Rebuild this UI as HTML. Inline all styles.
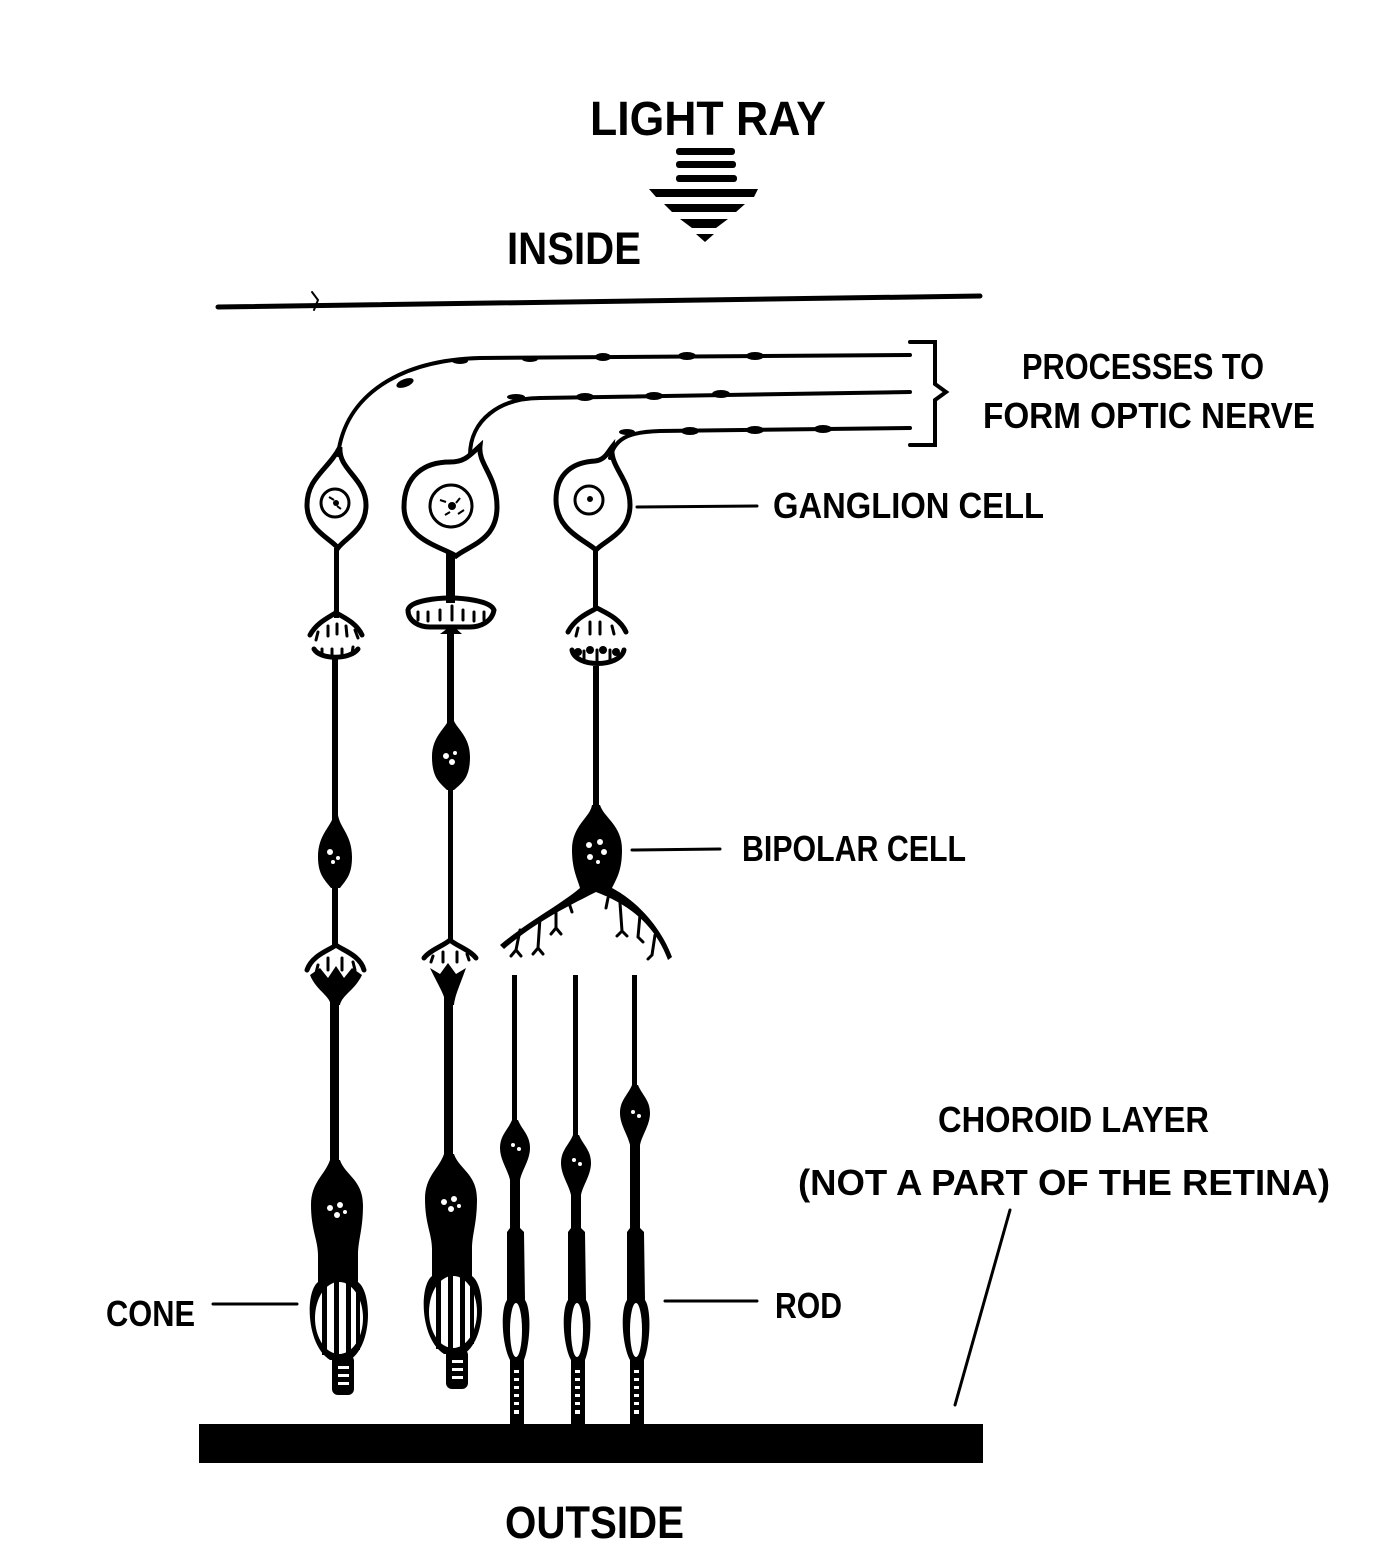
<!DOCTYPE html>
<html><head><meta charset="utf-8"><style>html,body{margin:0;padding:0;background:#fff}svg{display:block}</style></head>
<body>
<svg width="1392" height="1568" viewBox="0 0 1392 1568" xmlns="http://www.w3.org/2000/svg" font-family="Liberation Sans, sans-serif" font-weight="bold">
<rect width="1392" height="1568" fill="#fff"/>
<g fill="#000">
<text x="590" y="135" font-size="48" textLength="236" lengthAdjust="spacingAndGlyphs">LIGHT RAY</text>
<text x="507" y="264" font-size="45" textLength="134" lengthAdjust="spacingAndGlyphs">INSIDE</text>
<text x="505" y="1538" font-size="45" textLength="179" lengthAdjust="spacingAndGlyphs">OUTSIDE</text>
<text x="1022" y="379" font-size="36" textLength="242" lengthAdjust="spacingAndGlyphs">PROCESSES TO</text>
<text x="983" y="428" font-size="36" textLength="332" lengthAdjust="spacingAndGlyphs">FORM OPTIC NERVE</text>
<text x="773" y="518" font-size="36" textLength="271" lengthAdjust="spacingAndGlyphs">GANGLION CELL</text>
<text x="742" y="861" font-size="36" textLength="224" lengthAdjust="spacingAndGlyphs">BIPOLAR CELL</text>
<text x="938" y="1132" font-size="36" textLength="271" lengthAdjust="spacingAndGlyphs">CHOROID LAYER</text>
<text x="798" y="1195" font-size="36" textLength="532" lengthAdjust="spacingAndGlyphs">(NOT A PART OF THE RETINA)</text>
<text x="106" y="1326" font-size="36" textLength="89" lengthAdjust="spacingAndGlyphs">CONE</text>
<text x="775" y="1318" font-size="36" textLength="67" lengthAdjust="spacingAndGlyphs">ROD</text>

<!-- light ray arrow -->
<rect x="676" y="148" width="59" height="7" rx="3"/>
<rect x="676" y="161" width="60" height="7" rx="3"/>
<rect x="676" y="175" width="61" height="7" rx="3"/>
<polygon points="649,189 758,189 754,197 656,197"/>
<polygon points="664,204 745,204 736,212 672,212"/>
<polygon points="680,219 728,219 716,228 692,228"/>
<polygon points="696,234 714,234 705,242"/>
</g>

<g stroke="#000" fill="none" stroke-linecap="round">
<line x1="218" y1="307" x2="980" y2="296" stroke-width="5"/>
<path d="M312,292 l6,8 l-4,10" stroke-width="2"/>
<!-- choroid -->
<rect x="199" y="1424" width="784" height="39" fill="#000" stroke="none"/>
<!-- label lines -->
<line x1="637" y1="507" x2="757" y2="506" stroke-width="3"/>
<line x1="632" y1="850" x2="720" y2="849" stroke-width="3"/>
<line x1="213" y1="1304" x2="297" y2="1304" stroke-width="3"/>
<line x1="665" y1="1301" x2="757" y2="1301" stroke-width="3"/>
<line x1="1010" y1="1210" x2="955" y2="1405" stroke-width="3"/>
<!-- bracket -->
<path d="M910,342 L935,342 L935,384 L946,392 L935,400 L935,445 L910,445" stroke-width="4"/>

<!-- processes -->
<path d="M338,455 C345,395 400,360 480,358 L910,355" stroke-width="4"/>
<path d="M470,455 C470,420 500,398 540,398 L910,392" stroke-width="4"/>
<path d="M610,458 C615,440 625,432 660,431 L910,428" stroke-width="4"/>
</g>
<g fill="#000">
<ellipse cx="405" cy="383" rx="9" ry="4" transform="rotate(-20 405 383)"/>
<ellipse cx="460" cy="361" rx="8" ry="3"/><ellipse cx="530" cy="359" rx="8" ry="3"/>
<ellipse cx="603" cy="357" rx="8" ry="4"/><ellipse cx="687" cy="356" rx="9" ry="4"/>
<ellipse cx="755" cy="356" rx="9" ry="4"/>
<ellipse cx="516" cy="397" rx="9" ry="3"/><ellipse cx="585" cy="397" rx="9" ry="4"/>
<ellipse cx="654" cy="396" rx="9" ry="4"/><ellipse cx="721" cy="394" rx="9" ry="4"/>
<ellipse cx="627" cy="432" rx="8" ry="3"/><ellipse cx="690" cy="431" rx="9" ry="4"/>
<ellipse cx="755" cy="430" rx="9" ry="4"/><ellipse cx="823" cy="429" rx="9" ry="4"/>
</g>

<!-- ganglion cells -->
<g stroke="#000" stroke-width="5" fill="none">
<path d="M340,447 C338,470 366,478 366,505 C366,530 345,538 338,548 C330,538 307,530 307,505 C307,478 328,470 340,447 Z"/>
<circle cx="335" cy="503" r="14" stroke-width="3"/>
<path d="M480,446 C478,465 497,475 497,507 C497,540 470,545 456,556 C445,548 404,540 404,507 C404,475 425,462 450,462 C465,462 470,455 480,446 Z"/>
<circle cx="451" cy="506" r="21" stroke-width="3"/>
<path d="M612,447 C610,468 630,478 630,505 C630,533 605,540 596,550 C585,540 556,530 556,500 C556,472 575,462 595,461 C605,460 608,452 612,447 Z"/>
<circle cx="589" cy="500" r="14" stroke-width="3"/>
</g>
<g fill="#000">
<circle cx="336" cy="503" r="3"/><circle cx="452" cy="506" r="4"/><circle cx="590" cy="499" r="3"/>
<path d="M329,497 l5,3 M341,509 l-4,-3" stroke="#000" stroke-width="2"/>
<path d="M440,500 l6,2 M458,514 l6,-4 M445,515 l5,-3 M460,498 l-4,5" stroke="#000" stroke-width="2"/>
<!-- axons ganglion -->
<rect x="334" y="548" width="5" height="70"/>
<rect x="446" y="553" width="9" height="50"/>
<rect x="593" y="548" width="5" height="62"/>
</g>

<!-- synapses col1 upper -->
<g stroke="#000" fill="none" stroke-width="5" stroke-linecap="round">
<path d="M310,635 C318,620 335,615 336,612 C337,615 355,620 362,635"/>
<path d="M318,632 l-2,8 M328,626 l0,10 M337,624 l0,10 M346,626 l1,10 M355,630 l3,8" stroke-width="3"/>
<path d="M314,649 C320,660 350,660 358,649"/>
<path d="M322,656 l0,-7 M332,657 l0,-8 M342,657 l0,-8 M352,654 l1,-7" stroke-width="3"/>
<!-- col2 upper -->
<path d="M408,610 C410,600 440,598 450,598 C460,598 490,600 494,610 C492,622 480,627 470,627 L430,627 C420,627 408,622 408,610 Z" stroke-width="5"/>
<path d="M418,612 l0,8 M428,612 l0,9 M440,610 l0,10 M452,606 l0,14 M463,610 l0,10 M474,612 l0,9 M484,612 l0,8" stroke-width="3"/>
<!-- col3 upper -->
<path d="M568,632 C575,618 590,612 597,608 C604,612 620,618 626,632" />
<path d="M578,628 l-2,8 M590,622 l0,12 M600,622 l0,12 M612,626 l2,8" stroke-width="3"/>
<path d="M572,650 C575,668 620,668 624,650"/>
<path d="M584,661 l0,-10 M597,662 l0,-12 M610,660 l0,-10" stroke-width="3"/>
<!-- lower synapses col1 -->
<path d="M307,970 C312,955 330,950 336,945 C342,950 360,955 364,970"/>
<path d="M318,965 l-2,8 M328,958 l0,12 M342,958 l0,12 M353,962 l2,8" stroke-width="3"/>
<!-- col2 lower -->
<path d="M424,958 C430,950 445,945 450,940 C455,945 470,950 476,958"/>
<path d="M433,956 l-2,6 M443,952 l0,10 M457,952 l0,10 M467,954 l2,6" stroke-width="3"/>
</g>
<g fill="#000">
<circle cx="578" cy="652" r="4"/><circle cx="590" cy="650" r="4"/><circle cx="603" cy="650" r="4"/><circle cx="616" cy="652" r="4"/>
<polygon points="452,625 440,634 462,634"/>
<!-- col1 cone pedicle -->
<path d="M310,975 L320,968 L328,978 L336,966 L344,978 L352,968 L362,975 C355,990 342,995 340,1005 L331,1005 C329,995 316,990 310,975 Z"/>
<path d="M430,968 L440,974 L448,963 L456,974 L466,968 C460,985 455,995 454,1005 L446,1005 C445,995 438,985 430,968 Z"/>
<!-- fibers -->
<rect x="332" y="657" width="6" height="170"/>
<rect x="447" y="628" width="7" height="100"/>
<rect x="593" y="666" width="6" height="145"/>
<rect x="332" y="883" width="6" height="62"/>
<rect x="448" y="785" width="5" height="155"/>
<!-- bipolar bodies -->
<path d="M334,815 C330,828 318,835 318,857 C318,875 325,880 331,888 L340,888 C346,880 352,875 352,857 C352,835 340,828 338,815 Z"/>
<path d="M449,718 C447,728 432,735 432,757 C432,778 440,783 447,790 L454,790 C462,783 470,778 470,757 C470,735 455,728 453,718 Z"/>
<path d="M592,805 C590,818 572,825 572,850 C572,870 578,880 580,888 C560,905 530,920 500,945 L504,949 C532,925 560,910 596,892 C630,905 655,925 668,960 L672,957 C660,925 635,900 612,888 C617,878 622,870 622,850 C622,825 604,818 600,805 Z"/>
</g>
<g stroke="#000" stroke-width="3" fill="none" stroke-linecap="round">
<path d="M520,930 l-4,20 M516,950 l-5,6 M516,950 l5,6"/>
<path d="M540,918 l-2,30 M538,948 l-5,6 M538,948 l5,6"/>
<path d="M556,908 l0,20 M556,928 l-5,6 M556,928 l5,6"/>
<path d="M568,900 l4,12"/>
<path d="M608,898 l-2,10"/>
<path d="M620,903 l2,28 M622,931 l-5,5 M622,931 l5,5"/>
<path d="M640,915 l-2,22 M638,937 l5,5"/>
<path d="M655,935 l-3,20 M652,955 l-4,4"/>
</g>
<!-- nuclei dots in bipolars -->
<g fill="#fff">
<circle cx="330" cy="852" r="3"/><circle cx="338" cy="858" r="2"/><circle cx="333" cy="862" r="2"/>
<circle cx="446" cy="756" r="3"/><circle cx="455" cy="753" r="2"/><circle cx="452" cy="762" r="3"/>
<circle cx="589" cy="845" r="3"/><circle cx="600" cy="842" r="3"/><circle cx="604" cy="852" r="3"/><circle cx="590" cy="857" r="3"/><circle cx="598" cy="862" r="2"/>
</g>

<!-- cones -->
<g id="cone">
<rect x="330" y="990" width="9" height="175" fill="#000"/>
<path d="M330,1160 C325,1175 311,1182 311,1205 C311,1230 318,1240 318,1255 L318,1282 C305,1292 306,1345 330,1360 L350,1360 C373,1345 372,1292 358,1282 L358,1255 C358,1240 363,1230 363,1205 C363,1180 345,1175 340,1160 Z" fill="#000"/>
<ellipse cx="339" cy="1318" rx="24" ry="36" fill="#fff"/>
<g fill="#000"><rect x="322" y="1280" width="5" height="75"/><rect x="334" y="1278" width="5" height="78"/><rect x="346" y="1278" width="5" height="78"/><rect x="356" y="1285" width="4" height="65"/></g>
<rect x="332" y="1355" width="22" height="40" rx="6" fill="#000"/>
<g fill="#fff"><rect x="338" y="1366" width="11" height="3"/><rect x="338" y="1374" width="11" height="3"/><rect x="338" y="1382" width="11" height="3"/></g>
<g fill="#fff"><circle cx="330" cy="1208" r="3"/><circle cx="340" cy="1205" r="3"/><circle cx="337" cy="1215" r="3"/><circle cx="345" cy="1212" r="2"/></g>
</g>
<use href="#cone" transform="translate(114,-6)"/>

<!-- rods -->
<g id="rod">
<rect x="512" y="975" width="5" height="150" fill="#000"/>
<path d="M512,1120 C508,1130 500,1135 500,1148 C500,1160 508,1170 510,1180 L510,1228 L507,1232 L507,1300 C500,1310 502,1345 510,1360 L510,1425 L524,1425 L524,1360 C530,1345 532,1310 525,1300 L524,1232 L520,1228 L520,1180 C522,1170 530,1160 530,1148 C530,1135 522,1130 518,1120 Z" fill="#000"/>
<ellipse cx="516" cy="1330" rx="6" ry="27" fill="#fff"/>
<g fill="#fff"><rect x="514" y="1370" width="5" height="3"/><rect x="514" y="1378" width="5" height="3"/><rect x="514" y="1386" width="5" height="3"/><rect x="514" y="1394" width="5" height="3"/><rect x="514" y="1402" width="5" height="3"/><rect x="514" y="1410" width="5" height="4"/></g>
<circle cx="513" cy="1145" r="2" fill="#fff"/><circle cx="519" cy="1149" r="2" fill="#fff"/>
</g>
<g transform="translate(61,0)">
<rect x="512" y="975" width="5" height="170" fill="#000"/>
<path d="M512,1135 C508,1145 500,1150 500,1163 C500,1175 508,1185 510,1195 L510,1228 L507,1232 L507,1300 C500,1310 502,1345 510,1360 L510,1425 L524,1425 L524,1360 C530,1345 532,1310 525,1300 L524,1232 L520,1228 L520,1195 C522,1185 530,1175 530,1163 C530,1150 522,1145 518,1135 Z" fill="#000"/>
<ellipse cx="516" cy="1330" rx="6" ry="27" fill="#fff"/>
<g fill="#fff"><rect x="514" y="1370" width="5" height="3"/><rect x="514" y="1378" width="5" height="3"/><rect x="514" y="1386" width="5" height="3"/><rect x="514" y="1394" width="5" height="3"/><rect x="514" y="1402" width="5" height="3"/><rect x="514" y="1410" width="5" height="4"/></g>
<circle cx="513" cy="1160" r="2" fill="#fff"/><circle cx="519" cy="1164" r="2" fill="#fff"/>
</g>
<g transform="translate(120,0)">
<rect x="512" y="975" width="5" height="115" fill="#000"/>
<path d="M512,1085 C508,1095 500,1100 500,1113 C500,1125 508,1135 510,1145 L510,1228 L507,1232 L507,1300 C500,1310 502,1345 510,1360 L510,1425 L524,1425 L524,1360 C530,1345 532,1310 525,1300 L524,1232 L520,1228 L520,1145 C522,1135 530,1125 530,1113 C530,1100 522,1095 518,1085 Z" fill="#000"/>
<ellipse cx="516" cy="1330" rx="6" ry="27" fill="#fff"/>
<g fill="#fff"><rect x="514" y="1370" width="5" height="3"/><rect x="514" y="1378" width="5" height="3"/><rect x="514" y="1386" width="5" height="3"/><rect x="514" y="1394" width="5" height="3"/><rect x="514" y="1402" width="5" height="3"/><rect x="514" y="1410" width="5" height="4"/></g>
<circle cx="513" cy="1112" r="2" fill="#fff"/><circle cx="519" cy="1116" r="2" fill="#fff"/>
</g>
</svg>
</body></html>
